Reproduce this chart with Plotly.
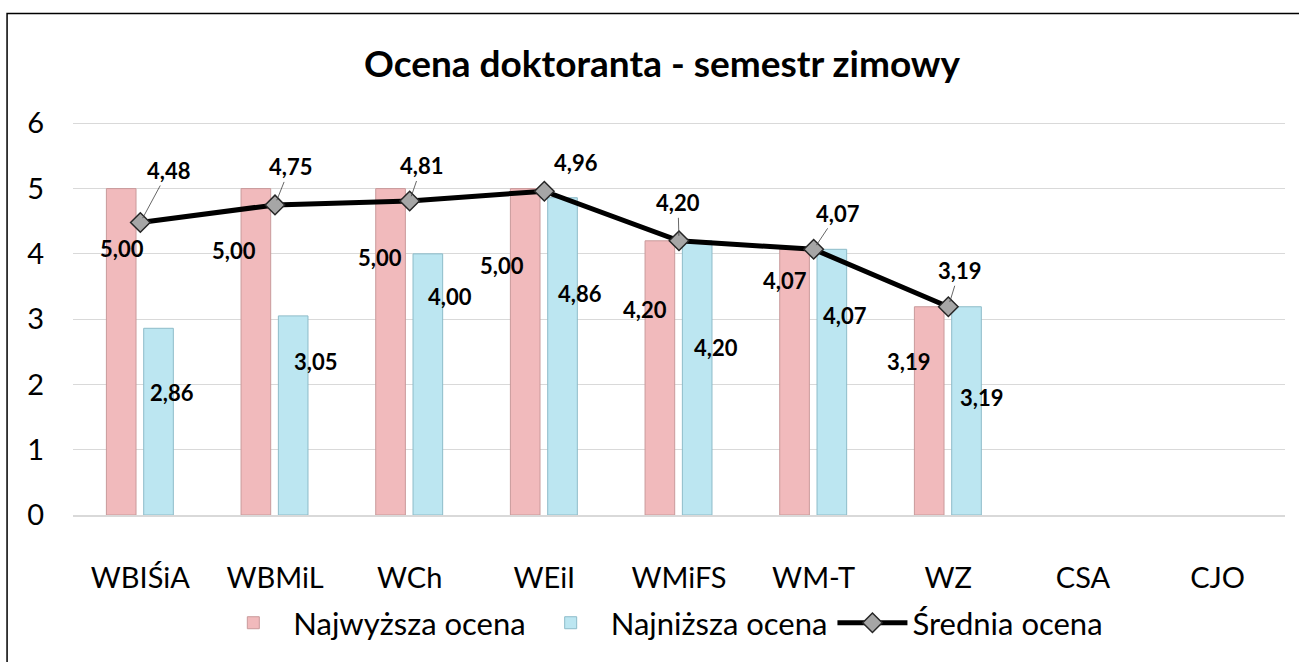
import plotly.graph_objects as go

categories = ["WBIŚiA", "WBMiL", "WCh", "WEiI", "WMiFS", "WM-T", "WZ", "CSA", "CJO"]
najwyzsza = [5.00, 5.00, 5.00, 5.00, 4.20, 4.07, 3.19, None, None]
najnizsza = [2.86, 3.05, 4.00, 4.86, 4.20, 4.07, 3.19, None, None]
srednia = [4.48, 4.75, 4.81, 4.96, 4.20, 4.07, 3.19, None, None]
y_ticks = [0, 1, 2, 3, 4, 5, 6]

# label placement (pixel shifts, styling only)
hi_dx = [-18, -41, -30, -42, -34, -29, -40]
hi_dy = [60, 62, 69, 77, 69, 31, 55]
lo_dx = [32, 40, 40, 36, 37, 31, 33]
lo_dy = [64, 46, 43, 96, 107, 66, 91]
av_dx = [28, 15, 12, 32, -1, 24, 11]
av_dy = [52, 38, 35, 29, 38, 36, 36]
av_leader = [True, True, True, False, True, True, True]

FONT = "Lato, Open Sans, sans-serif"
PINK = "#F1BABC"
PINK_EDGE = "#C99A9B"
BLUE = "#BCE6F1"
BLUE_EDGE = "#8EBCC9"

W, H = 1299, 662


def fmt(v):
    return f"{v:.2f}".replace(".", ",")


fig = go.Figure()
fig.add_trace(go.Bar(
    x=categories, y=najwyzsza, name="Najwyższa ocena",
    width=0.22, offset=-0.252,
    marker=dict(color=PINK, line=dict(color=PINK_EDGE, width=1)),
))
fig.add_trace(go.Bar(
    x=categories, y=najnizsza, name="Najniższa ocena",
    width=0.22, offset=0.025,
    marker=dict(color=BLUE, line=dict(color=BLUE_EDGE, width=1)),
))
fig.add_trace(go.Scatter(
    x=categories, y=srednia, name="Średnia ocena", mode="lines+markers",
    line=dict(color="black", width=5),
    marker=dict(symbol="diamond", size=15, color="#A6A6A6",
                line=dict(color="#262626", width=1.5)),
))

annotations = []
lab_font = dict(family=FONT, size=22, color="black", weight="bold")
for i, v in enumerate(najwyzsza):
    if v is None:
        continue
    annotations.append(dict(x=categories[i], y=v, text=fmt(v), showarrow=False,
                            xshift=hi_dx[i], yshift=-hi_dy[i], font=lab_font))
for i, v in enumerate(najnizsza):
    if v is None:
        continue
    annotations.append(dict(x=categories[i], y=v, text=fmt(v), showarrow=False,
                            xshift=lo_dx[i], yshift=-lo_dy[i], font=lab_font))
for i, v in enumerate(srednia):
    if v is None:
        continue
    if av_leader[i]:
        annotations.append(dict(x=categories[i], y=v, text=fmt(v), showarrow=True,
                                arrowhead=0, arrowwidth=0.8, arrowcolor="#404040",
                                standoff=5, ax=av_dx[i], ay=-av_dy[i],
                                font=lab_font))
    else:
        annotations.append(dict(x=categories[i], y=v, text=fmt(v), showarrow=False,
                                xshift=av_dx[i], yshift=av_dy[i], font=lab_font))

fig.update_layout(
    width=W, height=H,
    margin=dict(l=73, r=14, t=122, b=145),
    paper_bgcolor="white", plot_bgcolor="white",
    font=dict(family=FONT, color="black"),
    title=dict(text="<b>Ocena doktoranta - semestr zimowy</b>",
               x=0.486, xref="paper", xanchor="center",
               y=(H - 64) / H, yref="container", yanchor="middle",
               font=dict(family=FONT, size=37, color="black")),
    showlegend=True,
    legend=dict(orientation="h", x=0.485, xanchor="center", y=-0.275,
                yanchor="middle", font=dict(family=FONT, size=31, color="black"),
                itemwidth=70, traceorder="normal"),
    annotations=annotations,
    shapes=[dict(type="rect", xref="paper", yref="paper",
                 x0=-0.0544, x1=1.05, y0=-0.45, y1=1.276,
                 line=dict(color="black", width=1.5), layer="below")],
)
fig.update_xaxes(
    type="category", categoryorder="array", categoryarray=categories,
    range=[-0.5, 8.5], showgrid=False, showline=True, linecolor="#D9D9D9",
    linewidth=1.5, ticks="", tickfont=dict(family=FONT, size=29, color="black"),
    ticklabelstandoff=36,
)
fig.update_yaxes(
    range=[0, 6.02], tickvals=y_ticks, showgrid=True, gridcolor="#D9D9D9",
    gridwidth=1, zeroline=False, showline=False, ticks="",
    tickfont=dict(family=FONT, size=29, color="black"),
    ticklabelstandoff=28,
)

fig.write_html("out.html", config={"displayModeBar": False},
               post_script="document.body.style.margin='0px';"
                           "document.body.style.overflow='hidden';")
